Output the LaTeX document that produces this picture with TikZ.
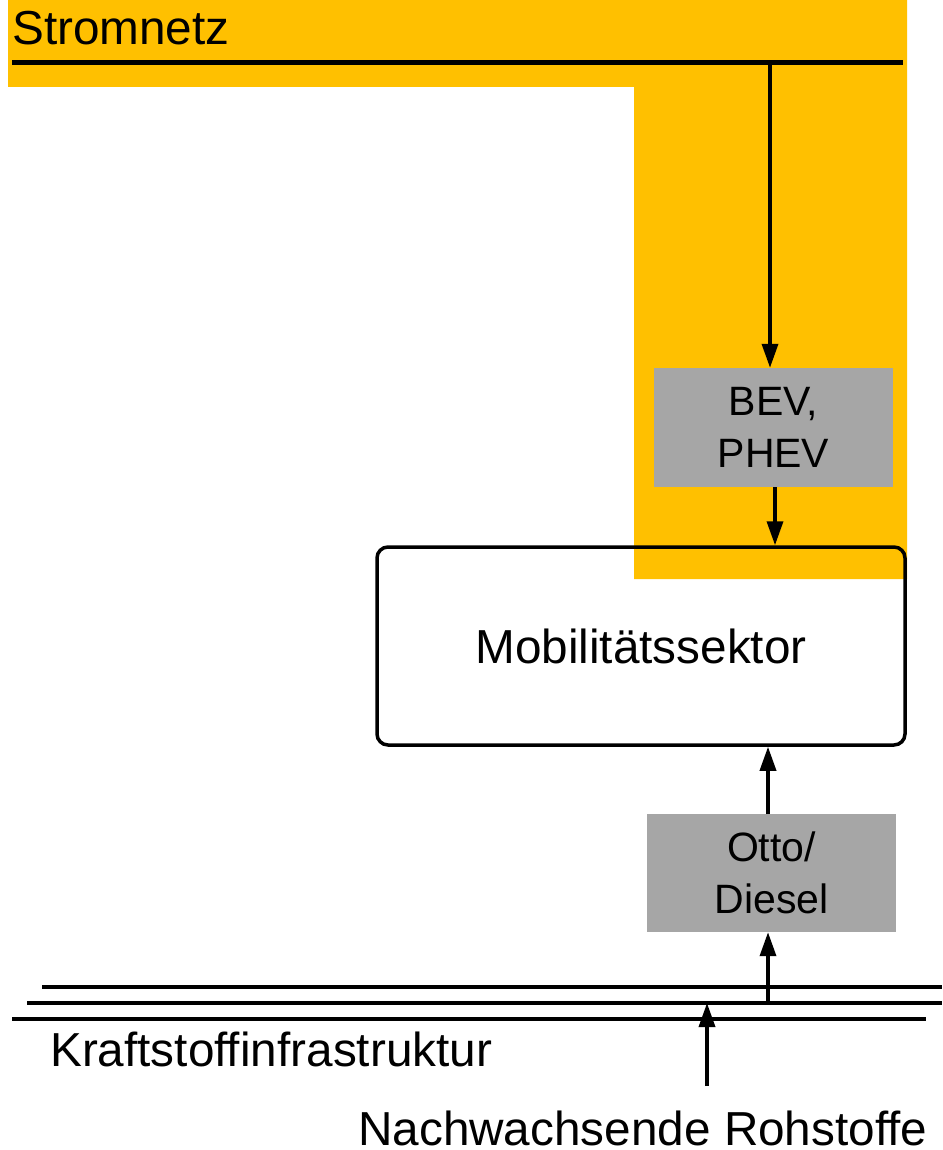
\documentclass[tikz,border=0pt]{standalone}
\usepackage{fontspec}
\setmainfont{Liberation Sans}
\usetikzlibrary{arrows.meta}
\definecolor{stromgelb}{HTML}{FFC000}
\definecolor{boxgrau}{HTML}{A6A6A6}
\begin{document}
\begin{tikzpicture}[x=1pt,y=-1pt,
  bigtext/.style={font=\fontsize{47.7}{57}\selectfont, inner sep=0pt},
  greybox/.style={fill=boxgrau, inner sep=0pt, align=center, font=\fontsize{41}{52.5}\selectfont},
  flow/.style={line width=3.5pt, -{Triangle[length=24pt,width=16pt]}},
  rail/.style={line width=4pt}]
\useasboundingbox (0,0) rectangle (942,1150);
% yellow region
\fill[stromgelb] (8,0) -- (907,0) -- (907,579) -- (634,579) -- (634,87) -- (8,87) -- cycle;
\node[bigtext, anchor=base west] (strom) at (12,45) {Stromnetz};
\draw[line width=5pt] (12,63) coordinate (sl) -- (903,63) coordinate (sr);
\coordinate (tap) at (770,63);
% boxes
\node[greybox, minimum width=239pt, minimum height=119pt] (bev) at (773.5,427.5) {BEV,\\PHEV};
\node[draw, line width=3.5pt, rounded corners=11pt, minimum width=528pt, minimum height=198pt, inner sep=0pt, font=\fontsize{47.7}{57}\selectfont] (mob) at (641,646) {Mobilitätssektor};
\node[greybox, minimum width=249pt, minimum height=118pt] (otto) at (771.5,873) {Otto/\\Diesel};
% rails
\draw[rail] (42,987) coordinate (r1l) -- (942,987) coordinate (r1r);
\draw[rail] (27,1003) coordinate (r2l) -- (942,1003) coordinate (r2r);
\draw[rail] (12,1019) coordinate (r3l) -- (926,1019) coordinate (r3r);
\coordinate (tap2) at (768,1003);
\coordinate (feed) at (707,1003);
\node[bigtext, anchor=base west] (kraft) at (50,1066) {Kraftstoffinfrastruktur};
\node[bigtext, anchor=base west] (nach) at (358,1145) {Nachwachsende Rohstoffe};
\coordinate (nstart) at (707,1086);
% arrows
\draw[flow] (tap) -- (tap |- bev.north);
\draw[flow] (775,487) coordinate (bs) -- (bs |- mob.north);
\draw[flow] (768,814) coordinate (os) -- (os |- mob.south);
\draw[flow] (tap2) -- (tap2 |- otto.south);
\draw[flow] (nstart) -- (feed);
\end{tikzpicture}
\end{document}
